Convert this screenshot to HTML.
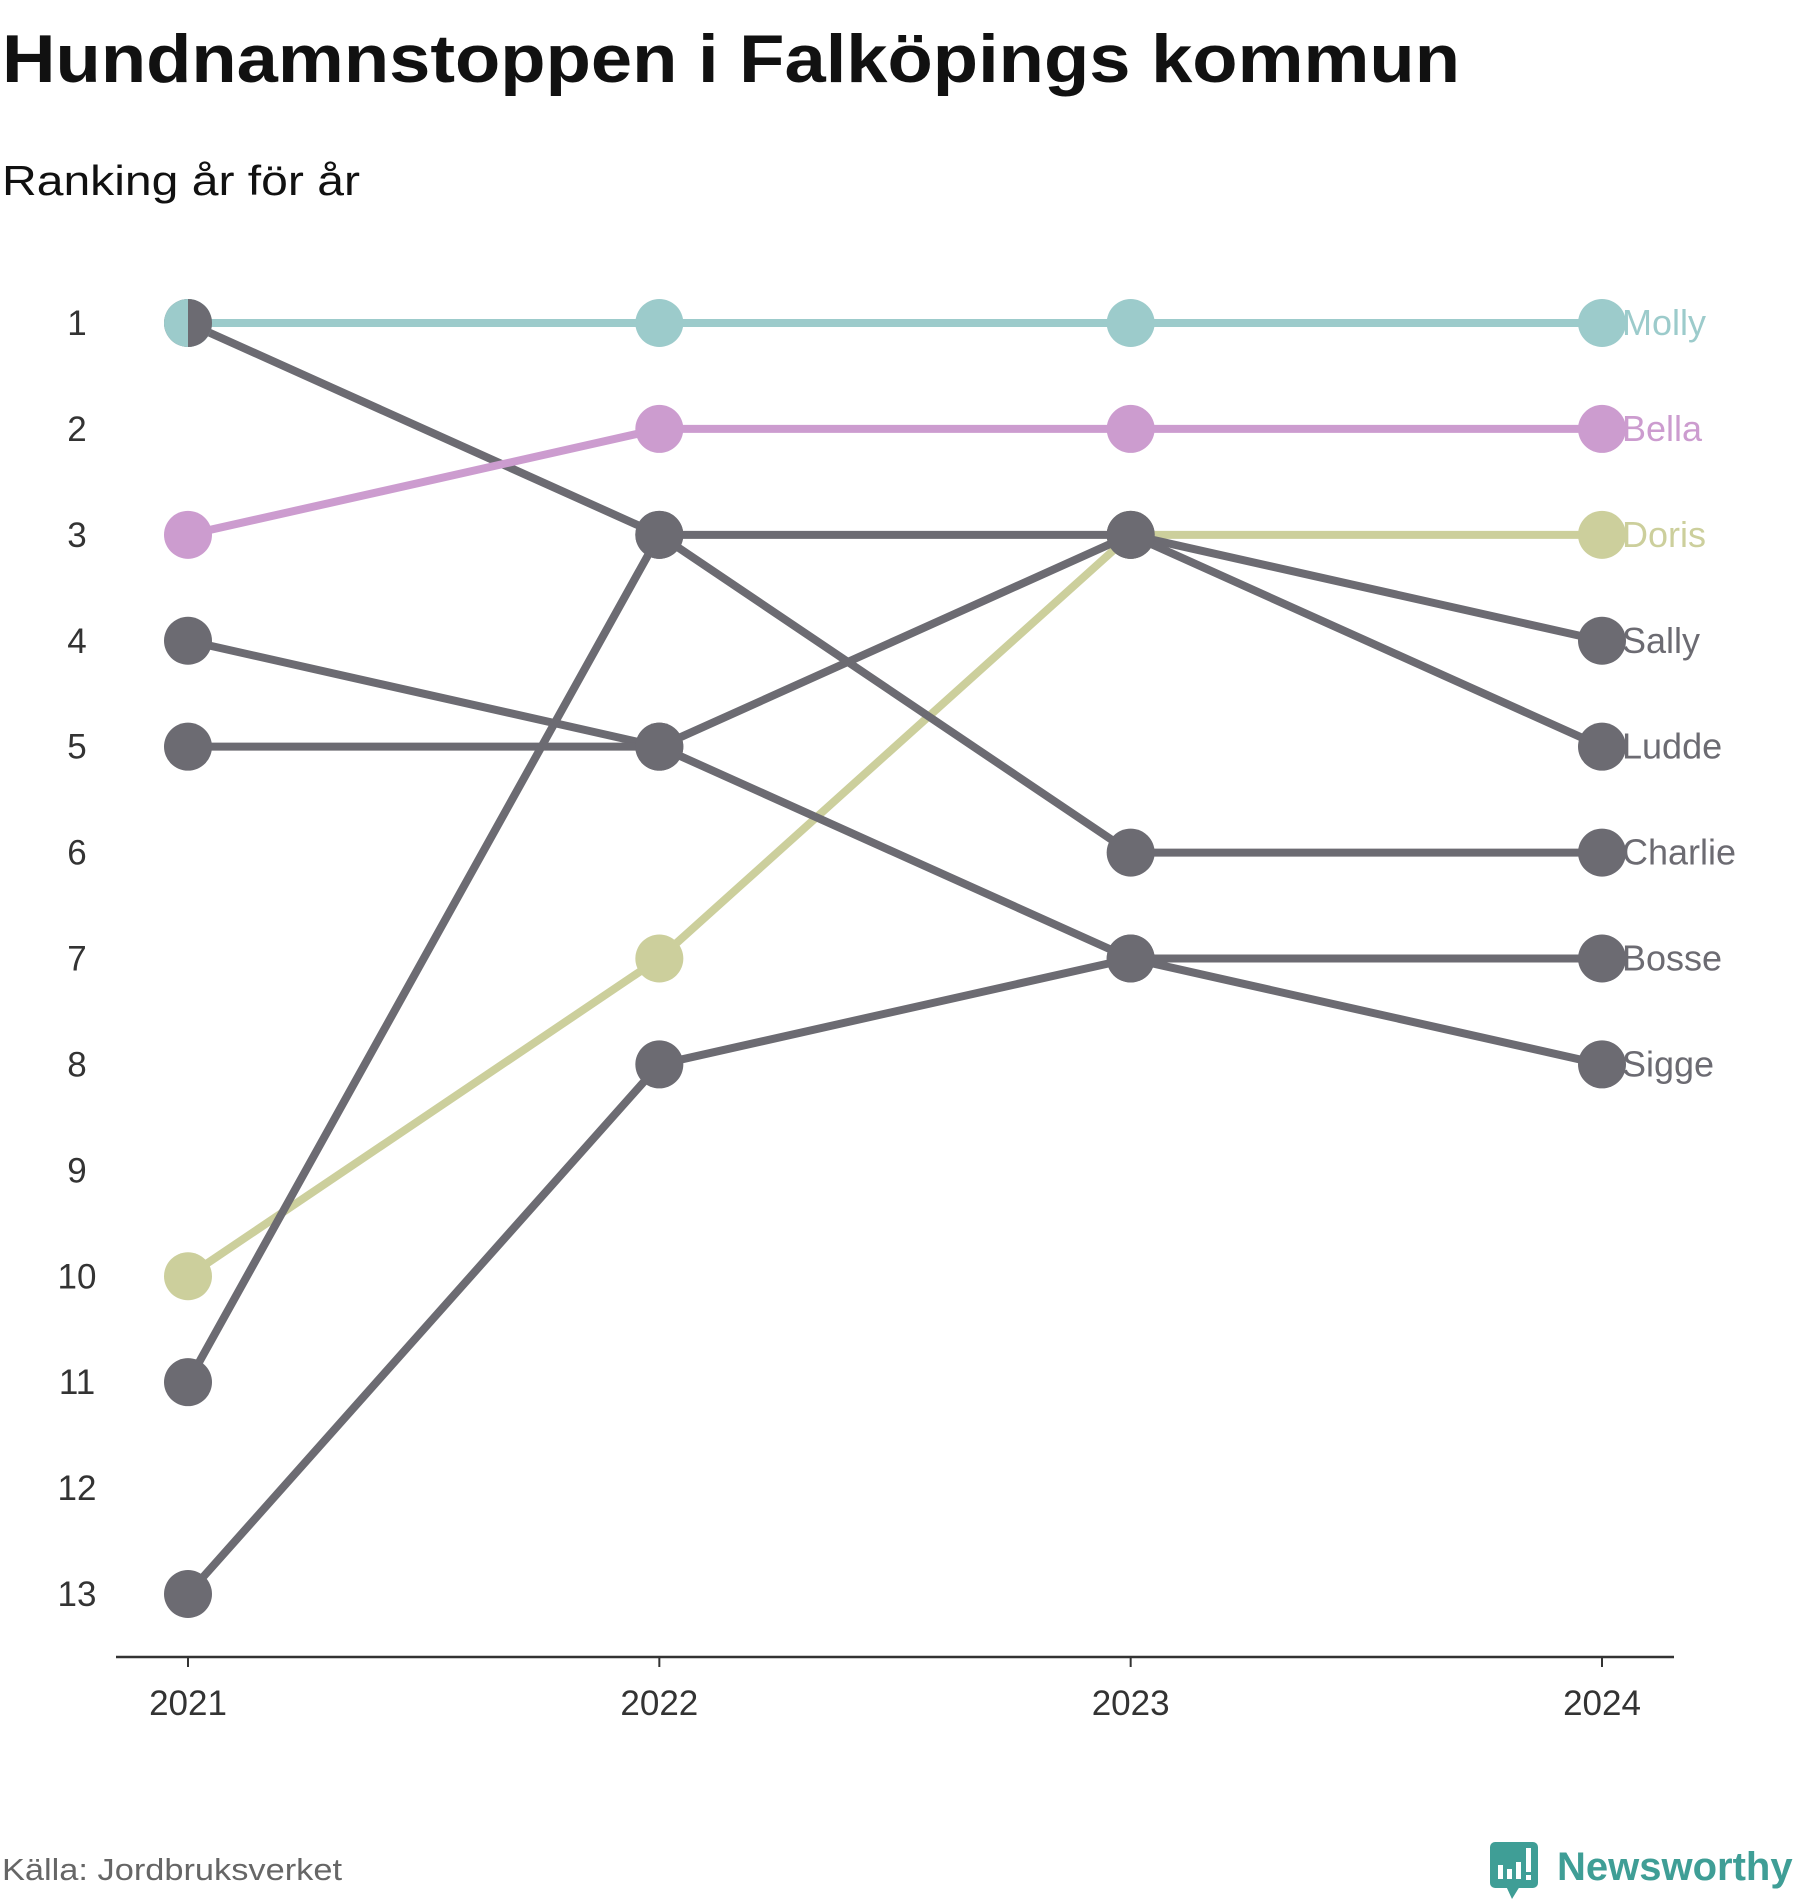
<!DOCTYPE html>
<html><head><meta charset="utf-8"><style>
body{margin:0;background:#fff;width:1800px;height:1900px;overflow:hidden;font-family:"Liberation Sans","DejaVu Sans",sans-serif}
svg{display:block}
</style></head><body>
<svg width="1800" height="1900" xmlns="http://www.w3.org/2000/svg" id="chart">
<text x="2" y="82" font-size="68" font-weight="bold" fill="#111" textLength="1458" lengthAdjust="spacingAndGlyphs">Hundnamnstoppen i Falköpings kommun</text>
<text x="2" y="195" font-size="42" fill="#111" textLength="358" lengthAdjust="spacingAndGlyphs">Ranking år för år</text>
<text x="2" y="1880" font-size="31" fill="#666" textLength="340" lengthAdjust="spacingAndGlyphs">Källa: Jordbruksverket</text>
<g>
<rect x="1490" y="1842" width="48" height="46" rx="5" fill="#3f9e96"/>
<polygon points="1506,1886 1520,1886 1512,1899" fill="#3f9e96"/>
<rect x="1498" y="1865" width="5" height="14" fill="#fff"/><rect x="1507" y="1869" width="5" height="10" fill="#fff"/><rect x="1516" y="1862" width="5" height="17" fill="#fff"/><rect x="1526" y="1848" width="5" height="24" fill="#fff"/><rect x="1526" y="1875" width="5" height="5" fill="#fff"/>
<text x="1557" y="1880" font-size="40" font-weight="bold" fill="#3f9e96">Newsworthy</text>
</g>
<g id="axes"></g>
<g id="lines"></g>
<g id="dots"></g>
<g id="labels"></g>
</svg>
<script>
const years = ["2021","2022","2023","2024"];
const rankTicks = [1,2,3,4,5,6,7,8,9,10,11,12,13];
const names = ["Doris","Charlie","Sigge","Sally","Ludde","Bosse","Bella","Molly"];
const colors = ["#cccf9c","#6c6b72","#6c6b72","#6c6b72","#6c6b72","#6c6b72","#cc9ccf","#9ccbcb"];
const doris = [10,7,3,3];
const charlie = [1,3,6,6];
const sigge = [4,5,7,8];
const sally = [5,5,3,4];
const ludde = [11,3,3,5];
const bosse = [13,8,7,7];
const bella = [3,2,2,2];
const molly = [1,1,1,1];
const series = [doris,charlie,sigge,sally,ludde,bosse,bella,molly];

const NS="http://www.w3.org/2000/svg";
const xScale = i => 188 + i*(1602-188)/(years.length-1);
const yScale = r => 323 + (r-1)*(1594-323)/12;
function mk(tag, attrs, parent){const e=document.createElementNS(NS,tag);for(const k in attrs)e.setAttribute(k,attrs[k]);parent.appendChild(e);return e;}
const axes=document.getElementById('axes'),lines=document.getElementById('lines'),dots=document.getElementById('dots'),labels=document.getElementById('labels');

const ax=mk('line',{x1:116,x2:1674,y1:1657,y2:1657,stroke:'#333','stroke-width':2.5},axes);


years.forEach((y,i)=>{
  const t=mk('line',{x1:xScale(i),x2:xScale(i),y1:1657,y2:1667,stroke:'#333','stroke-width':2},axes);
  
  
  const l=mk('text',{x:xScale(i),y:1715,'font-size':35,fill:'#333','text-anchor':'middle'},axes);
  l.textContent=y;
  
  
});
rankTicks.forEach(r=>{
  const l=mk('text',{x:77,y:yScale(r)+12,'font-size':35,fill:'#333','text-anchor':'middle'},axes);
  l.textContent=r;
  
  
});
series.forEach((s,k)=>{
  const pts=s.map((r,i)=>xScale(i)+','+yScale(r)).join(' ');
  const pl=mk('polyline',{points:pts,fill:'none',stroke:colors[k],'stroke-width':8,'stroke-linejoin':'round'},lines);
  
  
  s.forEach((r,i)=>{
    const c=mk('circle',{cx:xScale(i),cy:yScale(r),r:24,fill:colors[k]},(k===0 && i<3)?lines:dots);
    
    
  });
  const t=mk('text',{x:xScale(3)+20,y:yScale(s[3])+12,'font-size':36,fill:colors[k]},labels);
  t.textContent=names[k];
  
  
});
const hc=mk('path',{d:`M ${xScale(0)} ${yScale(1)-24} A 24 24 0 0 1 ${xScale(0)} ${yScale(1)+24} Z`,fill:'#6c6b72'},dots);


</script>
</body></html>
